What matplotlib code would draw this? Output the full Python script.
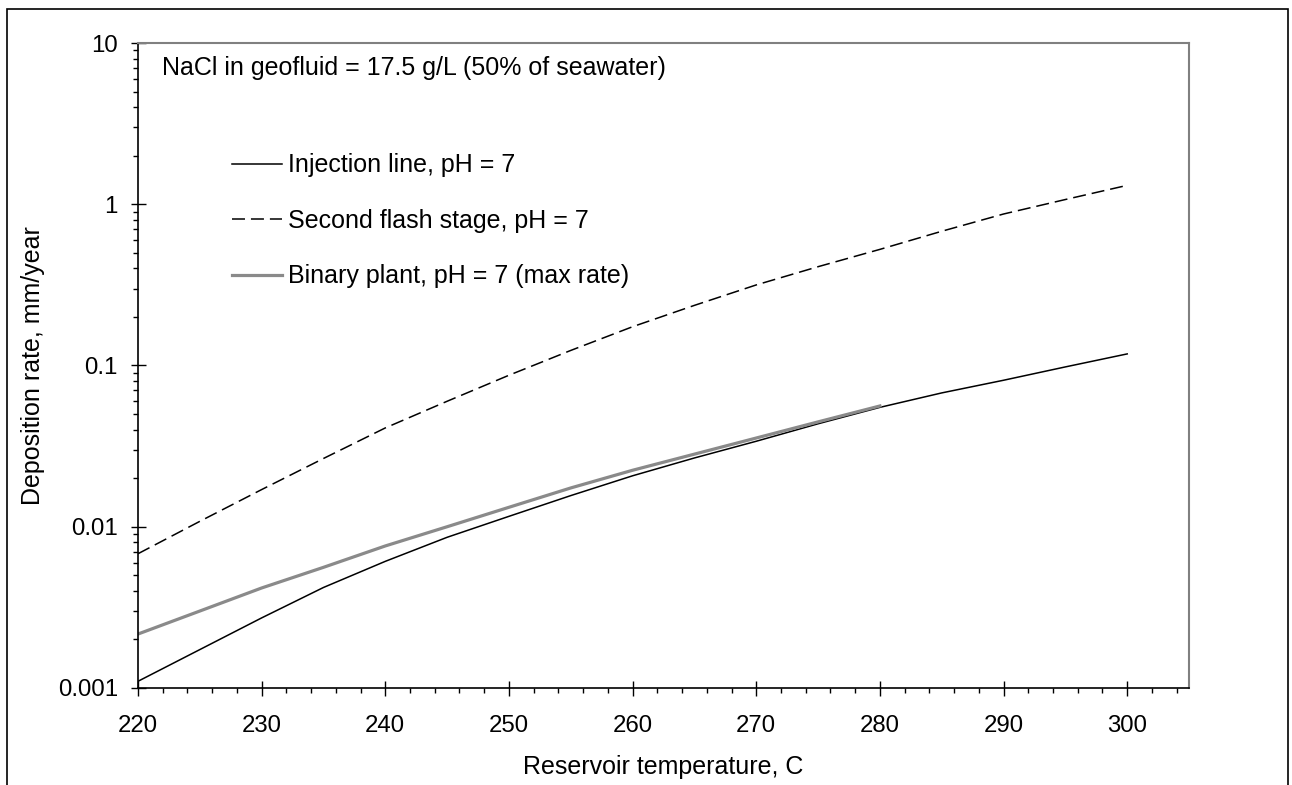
import matplotlib
matplotlib.use("Agg")
import matplotlib.pyplot as plt
from matplotlib.patches import Rectangle
from matplotlib.ticker import FixedLocator, FuncFormatter, LogLocator, NullFormatter

plt.rcParams['font.family'] = ['Liberation Sans', 'DejaVu Sans']

# Reservoir temperature, C
temp_full = [220, 225, 230, 235, 240, 245, 250, 255, 260, 265, 270, 275, 280, 285, 290, 295, 300]
temp_binary = [220, 225, 230, 235, 240, 245, 250, 255, 260, 265, 270, 275, 280]

# Deposition rate, mm/year
injection_line = [0.0011, 0.00173, 0.00272, 0.0042, 0.0061, 0.0086, 0.0116, 0.0156, 0.0207,
                  0.0267, 0.0339, 0.0435, 0.055, 0.0676, 0.081, 0.098, 0.118]
second_flash = [0.0068, 0.0108, 0.017, 0.0265, 0.041, 0.060, 0.087, 0.124, 0.174,
                0.236, 0.316, 0.41, 0.525, 0.68, 0.87, 1.07, 1.31]
binary_plant = [0.00216, 0.0030, 0.00417, 0.0056, 0.0076, 0.010, 0.0132, 0.0174, 0.0224,
                0.0282, 0.0355, 0.0447, 0.0561]

y_ticks = [0.001, 0.01, 0.1, 1, 10]
x_ticks = [220, 230, 240, 250, 260, 270, 280, 290, 300]

fig = plt.figure(figsize=(12.92, 7.85), dpi=100)
ax = fig.add_axes([0.1068, 0.1236, 0.8135, 0.8216])

ax.plot(temp_full, injection_line, color='black', lw=1.1, label='Injection line, pH = 7')
ax.plot(temp_full, second_flash, color='black', lw=1.1, dashes=(8.5, 3.9),
        label='Second flash stage, pH = 7')
ax.plot(temp_binary, binary_plant, color='#8a8a8a', lw=2.3,
        label='Binary plant, pH = 7 (max rate)')

ax.set_yscale('log')
ax.set_xlim(220, 305)
ax.set_ylim(0.001, 10)

ax.xaxis.set_major_locator(FixedLocator(x_ticks))
ax.xaxis.set_minor_locator(FixedLocator(range(220, 306, 2)))
ax.yaxis.set_major_locator(FixedLocator(y_ticks))
ax.yaxis.set_major_formatter(FuncFormatter(lambda v, p: '%g' % v))
ax.yaxis.set_minor_locator(LogLocator(base=10, subs=range(2, 10), numticks=20))
ax.yaxis.set_minor_formatter(NullFormatter())

ax.tick_params(which='major', direction='inout', length=10.8, width=1.0,
               labelsize=17.3, color='black')
ax.tick_params(which='minor', direction='out', length=3.8, width=1.0, color='black')
ax.tick_params(axis='x', which='major', pad=14)
ax.tick_params(axis='y', which='major', pad=9)

for side in ['left', 'bottom']:
    ax.spines[side].set_color('black')
    ax.spines[side].set_linewidth(1.2)
for side in ['top', 'right']:
    ax.spines[side].set_color('#808080')
    ax.spines[side].set_linewidth(1.5)

ax.set_xlabel('Reservoir temperature, C', fontsize=18, labelpad=13)
ax.set_ylabel('Deposition rate, mm/year', fontsize=18, labelpad=9)

ax.text(0.0228, 0.961, 'NaCl in geofluid = 17.5 g/L (50% of seawater)',
        transform=ax.transAxes, fontsize=18, ha='left', va='center')

ax.legend(loc='upper left', bbox_to_anchor=(0.0894, 0.829), frameon=False,
          fontsize=18, handlelength=2.0, handletextpad=0.24,
          labelspacing=1.26, borderpad=0, borderaxespad=0)

# outer frame around the whole figure
fig.patches.append(Rectangle((7 / 1292, -0.1), 1281 / 1292, 1.0885, transform=fig.transFigure,
                             fill=False, edgecolor='black', lw=1.2))

fig.savefig('out.png', dpi=100)
